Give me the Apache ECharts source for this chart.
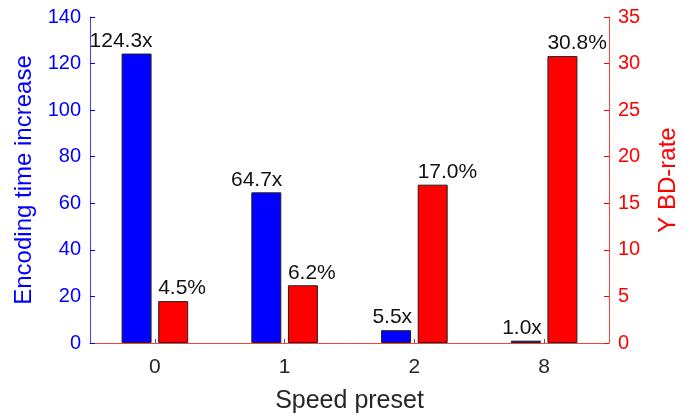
<!DOCTYPE html>
<html>
<head>
<meta charset="utf-8">
<script src="https://cdn.jsdelivr.net/npm/echarts@6/dist/echarts.min.js"></script>
<style>
  html, body { margin: 0; padding: 0; background: #fff; }
  #chart { width: 688px; height: 419px; }
</style>
</head>
<body>
<div id="chart"></div>
<script>
// Speed presets on the x axis
const presets = ['0', '1', '2', '8'];
// Encoding time increase (left axis, multiples)
const encodingTime = [124.3, 64.7, 5.5, 1.0];
// Y BD-rate (right axis, percent)
const bdRate = [4.5, 6.2, 17.0, 30.8];

const FONT = '"Liberation Sans", Arial, Helvetica, sans-serif';
const BLUE = '#0000ff';
const RED = '#ff0000';
const DARK = '#262626';

const chart = echarts.init(document.getElementById('chart'), null, { renderer: 'canvas' });

chart.setOption({
  animation: false,
  textStyle: { fontFamily: FONT },
  grid: { left: 90, right: 75, top: 17, bottom: 70.5, containLabel: false },
  xAxis: {
    type: 'category',
    data: presets,
    name: 'Speed preset',
    nameLocation: 'middle',
    nameGap: 46,
    nameTextStyle: { fontFamily: FONT, fontSize: 25, color: DARK },
    axisLine: { lineStyle: { color: RED, width: 1, opacity: 0.75 } },
    axisTick: { show: true, inside: true, alignWithLabel: true, length: 4, lineStyle: { color: '#555' } },
    axisLabel: { fontFamily: FONT, fontSize: 21, color: DARK, margin: 14 },
    splitLine: { show: false }
  },
  yAxis: [
    {
      type: 'value',
      min: 0, max: 140, interval: 20,
      position: 'left',
      name: 'Encoding time increase',
      nameLocation: 'middle',
      nameGap: 54,
      nameTextStyle: { fontFamily: FONT, fontSize: 24, color: BLUE },
      axisLine: { show: true, lineStyle: { color: BLUE, width: 1, opacity: 0.75 } },
      axisTick: { show: true, inside: true, length: 5, lineStyle: { color: BLUE } },
      axisLabel: { fontFamily: FONT, fontSize: 20, color: BLUE, margin: 9 },
      splitLine: { show: false }
    },
    {
      type: 'value',
      min: 0, max: 35, interval: 5,
      position: 'right',
      name: 'Y BD-rate',
      nameLocation: 'middle',
      nameGap: 47,
      nameTextStyle: { fontFamily: FONT, fontSize: 24, color: RED },
      axisLine: { show: true, lineStyle: { color: RED, width: 1, opacity: 0.75 } },
      axisTick: { show: true, inside: true, length: 5, lineStyle: { color: RED } },
      axisLabel: { fontFamily: FONT, fontSize: 20, color: RED, margin: 9 },
      splitLine: { show: false }
    }
  ],
  series: [
    {
      name: 'Encoding time increase',
      type: 'bar',
      yAxisIndex: 0,
      data: encodingTime,
      barWidth: 30,
      barGap: '22%',
      itemStyle: { color: BLUE, borderColor: '#222', borderWidth: 1 },
      label: {
        show: true,
        position: ['100%', 0],
        align: 'right',
        verticalAlign: 'bottom',
        offset: [1, -2],
        fontFamily: FONT,
        fontSize: 21,
        color: '#111',
        formatter: p => p.value.toFixed(1) + 'x'
      }
    },
    {
      name: 'Y BD-rate',
      type: 'bar',
      yAxisIndex: 1,
      data: bdRate,
      barWidth: 30,
      barGap: '22%',
      itemStyle: { color: RED, borderColor: '#222', borderWidth: 1 },
      label: {
        show: true,
        position: [0, 0],
        align: 'left',
        verticalAlign: 'bottom',
        offset: [0, -2],
        fontFamily: FONT,
        fontSize: 21,
        color: '#111',
        formatter: p => p.value.toFixed(1) + '%'
      }
    }
  ]
});
</script>
</body>
</html>
